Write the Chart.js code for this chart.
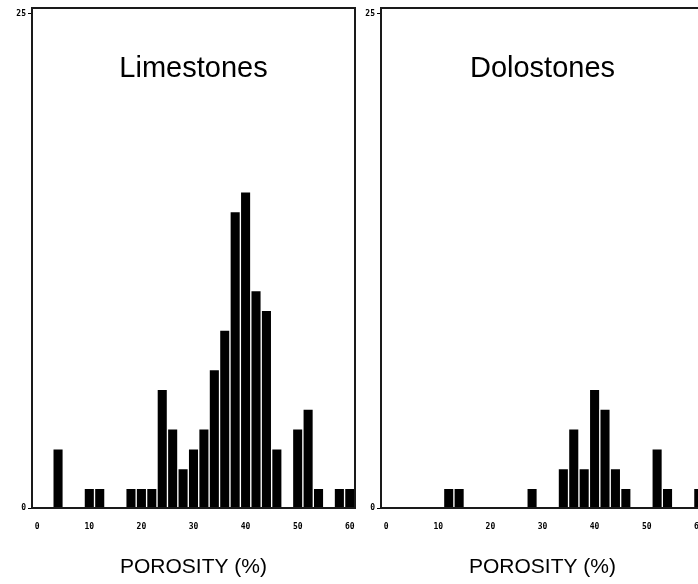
<!DOCTYPE html>
<html>
<head>
<meta charset="utf-8">
<title>Porosity histograms</title>
<script src="https://cdn.jsdelivr.net/npm/chart.js@4.4.1/dist/chart.umd.min.js"></script>
<style>
  html, body { margin: 0; padding: 0; background: #fff; overflow: hidden; }
  #wrap { position: relative; width: 698px; height: 584px; overflow: hidden; background: #fff; }
  canvas { position: absolute; top: 0; }
  #limeChart { left: 0; }
  #doloChart { left: 349px; }
</style>
</head>
<body>
<div id="wrap">
  <canvas id="limeChart" width="366" height="584"></canvas>
  <canvas id="doloChart" width="356" height="584"></canvas>
</div>
<script>
// bin centres (porosity %), bins are 2 wide
const porosityBins = [0, 2, 4, 6, 8, 10, 12, 14, 16, 18, 20, 22, 24, 26, 28, 30,
                      32, 34, 36, 38, 40, 42, 44, 46, 48, 50, 52, 54, 56, 58, 60];
const limestoneCounts = [0, 0, 3, 0, 0, 1, 1, 0, 0, 1, 1, 1, 6, 4, 2, 3,
                         4, 7, 9, 15, 16, 11, 10, 3, 0, 4, 5, 1, 0, 1, 1];
const dolostoneCounts = [0, 0, 0, 0, 0, 0, 1, 1, 0, 0, 0, 0, 0, 0, 1, 0,
                         0, 2, 4, 2, 6, 5, 2, 1, 0, 0, 3, 1, 0, 0, 1];
const xTickLabels = ['0', '10', '20', '30', '40', '50', '60'];
const yTickValues = [0, 25];

const tinyFont = { family: 'DejaVu Sans Mono', size: 8, weight: 'bold' };

// box round the plot + the rock name inside it
const framePlugin = {
  id: 'frame',
  afterDraw(chart, args, opts) {
    const { ctx, chartArea: a } = chart;
    ctx.save();
    ctx.strokeStyle = '#1a1a1a';
    ctx.lineWidth = 2;
    ctx.strokeRect(a.left, a.top, a.right - a.left, a.bottom - a.top);
    ctx.font = '29px "Liberation Sans", Arial, sans-serif';
    ctx.fillStyle = '#000';
    ctx.textAlign = 'center';
    ctx.textBaseline = 'middle';
    ctx.fillText(opts.label, (a.left + a.right) / 2, a.top + 61);
    ctx.restore();
  }
};

function makeChart(id, label, counts, rightPad) {
  return new Chart(document.getElementById(id), {
    type: 'bar',
    data: {
      labels: porosityBins,
      datasets: [{
        data: counts,
        backgroundColor: '#000',
        borderColor: '#fff',
        borderWidth: 1,
        barPercentage: 1,
        categoryPercentage: 1
      }]
    },
    options: {
      responsive: false,
      animation: false,
      layout: { padding: { top: 8, right: rightPad, left: 0, bottom: 0 } },
      plugins: {
        legend: { display: false },
        tooltip: { enabled: false },
        frame: { label: label }
      },
      scales: {
        x: {
          offset: true,
          grid: { display: false },
          border: { display: false },
          ticks: {
            autoSkip: false,
            maxRotation: 0,
            padding: 6,
            color: '#000',
            font: tinyFont,
            callback: (v, i) => xTickLabels.includes(String(porosityBins[i])) ? String(porosityBins[i]) : ''
          },
          title: {
            display: true,
            text: 'POROSITY (%)',
            color: '#000',
            font: { family: 'Liberation Sans', size: 21 },
            padding: { top: 0, bottom: 4 }
          },
          afterFit: s => {
            s.height = 76;
            // let the end labels hang out, keep the plot width fixed
            s.paddingLeft = 0;
            s.paddingRight = 0;
          }
        },
        y: {
          min: 0,
          max: 25.3,
          afterBuildTicks: s => { s.ticks = yTickValues.map(v => ({ value: v })); },
          grid: { drawOnChartArea: false, tickLength: 4, color: '#000' },
          border: { display: false },
          ticks: { padding: 2, color: '#000', font: tinyFont },
          afterFit: s => { s.width = 32; }
        }
      }
    },
    plugins: [framePlugin]
  });
}

makeChart('limeChart', 'Limestones', limestoneCounts, 11);
makeChart('doloChart', 'Dolostones', dolostoneCounts, 1);
</script>
</body>
</html>
